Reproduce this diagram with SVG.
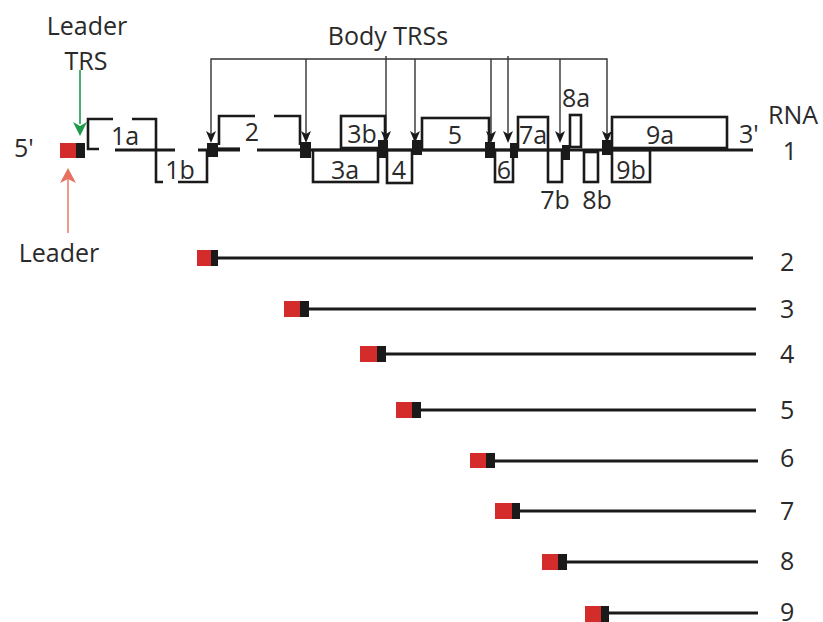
<svg xmlns="http://www.w3.org/2000/svg" width="823" height="622" viewBox="0 0 823 622">
<defs>
<style>
text{font-family:"Open Sans","Noto Sans","Liberation Sans",sans-serif;font-size:25px;fill:#2a2a2a}
.m{text-anchor:middle}
.box{fill:none;stroke:#1a1a1a;stroke-width:2.6}
.base{stroke:#1a1a1a;stroke-width:3.2;fill:none}
.trs{fill:#1a1a1a}
.ldr{fill:#d42b2b}
.arr{stroke:#333;stroke-width:1.4;fill:none}
.sg{stroke:#1a1a1a;stroke-width:3}
</style>
</defs>
<rect width="823" height="622" fill="#fff"/>

<g id="labels-top">
<text class="m" x="87" y="35">Leader</text>
<text class="m" x="86" y="70">TRS</text>
<text class="m" x="388" y="45">Body TRSs</text>
<text x="14" y="157">5'</text>
<text class="m" x="59" y="262">Leader</text>
<text x="739" y="143">3'</text>
<text x="768" y="124">RNA</text>
<text class="m" x="790" y="160">1</text>
</g>

<g id="connectors">
<line x1="80" y1="70" x2="80" y2="124" stroke="#1d9a4c" stroke-width="1.6"/>
<path d="M73,122 L80,126 L87,122 L80,136 Z" fill="#1d9a4c"/>
<line x1="68" y1="233" x2="68" y2="178" stroke="#e8705e" stroke-width="1.4"/>
<path d="M60,183 L68,179 L76,183 L68,168 Z" fill="#e8705e"/>
<polyline class="arr" points="211,140 211,59 607,59 607,140"/>
<line class="arr" x1="306" y1="59" x2="306" y2="140"/>
<line class="arr" x1="386" y1="56" x2="386" y2="140"/>
<line class="arr" x1="415" y1="59" x2="415" y2="140"/>
<line class="arr" x1="491" y1="59" x2="491" y2="140"/>
<line class="arr" x1="508" y1="56" x2="508" y2="140"/>
<line class="arr" x1="560" y1="59" x2="560" y2="140"/>
<g fill="#1a1a1a">
<path d="M206,131 L211,134 L216,131 L211,143 Z"/>
<path d="M301,131 L306,134 L311,131 L306,143 Z"/>
<path d="M381,131 L386,134 L391,131 L386,143 Z"/>
<path d="M410,131 L415,134 L420,131 L415,143 Z"/>
<path d="M486,131 L491,134 L496,131 L491,143 Z"/>
<path d="M503,131 L508,134 L513,131 L508,143 Z"/>
<path d="M555,131 L560,134 L565,131 L560,143 Z"/>
<path d="M602,131 L607,134 L612,131 L607,143 Z"/>
</g>
</g>

<g id="genome">
<path class="base" d="M115,150 H175 M198,150 H240 M257,150 H753"/>
<path class="base" d="M218,149 H240" stroke-width="4"/>
<path class="box" d="M99,149 H88 V119 H113 M132,119 H156 V182 H163 M178,182 H207 V149"/>
<path class="box" d="M219,145 V116 H255 M274,116 H300 V145"/>
<rect class="box" x="313" y="150" width="65" height="32"/>
<rect class="box" x="341" y="116" width="44" height="32"/>
<rect class="box" x="387" y="150" width="25" height="33"/>
<rect class="box" x="422" y="118" width="67" height="32"/>
<rect class="box" x="495" y="150" width="18" height="32"/>
<rect class="box" x="518" y="117" width="30" height="33"/>
<rect class="box" x="548" y="150" width="14" height="32"/>
<rect class="box" x="570" y="115" width="11" height="32"/>
<rect class="box" x="584" y="152" width="14" height="30"/>
<rect class="box" x="612" y="117" width="115" height="31"/>
<rect class="box" x="612" y="150" width="38" height="32"/>
<rect class="ldr" x="60" y="143" width="16" height="15"/>
<rect class="trs" x="76" y="143" width="9" height="15"/>
<rect class="trs" x="207" y="143" width="11" height="14"/>
<rect class="trs" x="300" y="142" width="11" height="16"/>
<rect class="trs" x="378" y="140" width="10" height="18"/>
<rect class="trs" x="412" y="140" width="10" height="15"/>
<rect class="trs" x="485" y="142" width="10" height="16"/>
<rect class="trs" x="510" y="143" width="8" height="15"/>
<rect class="trs" x="562" y="145" width="8" height="15"/>
<rect class="trs" x="602" y="140" width="10" height="15"/>
<text class="m" x="125" y="145">1a</text>
<text class="m" x="180" y="179">1b</text>
<text class="m" x="252" y="141">2</text>
<text class="m" x="345" y="179">3a</text>
<text class="m" x="362" y="143">3b</text>
<text class="m" x="399" y="179">4</text>
<text class="m" x="455" y="144">5</text>
<text class="m" x="504" y="179">6</text>
<text class="m" x="533" y="144">7a</text>
<text class="m" x="555" y="209">7b</text>
<text class="m" x="576" y="107">8a</text>
<text class="m" x="597" y="209">8b</text>
<text class="m" x="660" y="144">9a</text>
<text class="m" x="631" y="179">9b</text>
</g>

<g id="rna2"><rect class="ldr" x="197" y="250" width="14" height="16"/><rect class="trs" x="211" y="250" width="7" height="16"/><line class="sg" x1="217" y1="258" x2="753" y2="258"/><text x="780" y="271">2</text></g>
<g id="rna3"><rect class="ldr" x="284" y="301" width="16" height="16"/><rect class="trs" x="300" y="301" width="9" height="16"/><line class="sg" x1="309" y1="309" x2="756" y2="309"/><text x="780" y="318">3</text></g>
<g id="rna4"><rect class="ldr" x="360" y="346" width="17" height="16"/><rect class="trs" x="377" y="346" width="9" height="16"/><line class="sg" x1="386" y1="354" x2="756" y2="354"/><text x="780" y="363">4</text></g>
<g id="rna5"><rect class="ldr" x="396" y="402" width="16" height="16"/><rect class="trs" x="412" y="402" width="9" height="16"/><line class="sg" x1="421" y1="410" x2="756" y2="410"/><text x="780" y="419">5</text></g>
<g id="rna6"><rect class="ldr" x="470" y="453" width="16" height="15"/><rect class="trs" x="486" y="453" width="9" height="15"/><line class="sg" x1="495" y1="461" x2="758" y2="461"/><text x="780" y="467">6</text></g>
<g id="rna7"><rect class="ldr" x="495" y="503" width="17" height="16"/><rect class="trs" x="512" y="503" width="8" height="16"/><line class="sg" x1="520" y1="511" x2="756" y2="511"/><text x="780" y="520">7</text></g>
<g id="rna8"><rect class="ldr" x="542" y="554" width="16" height="16"/><rect class="trs" x="558" y="554" width="9" height="16"/><line class="sg" x1="567" y1="562" x2="758" y2="562"/><text x="780" y="570">8</text></g>
<g id="rna9"><rect class="ldr" x="585" y="606" width="16" height="16"/><rect class="trs" x="601" y="606" width="8" height="16"/><line class="sg" x1="609" y1="613" x2="758" y2="613"/><text x="780" y="621">9</text></g>
</svg>
